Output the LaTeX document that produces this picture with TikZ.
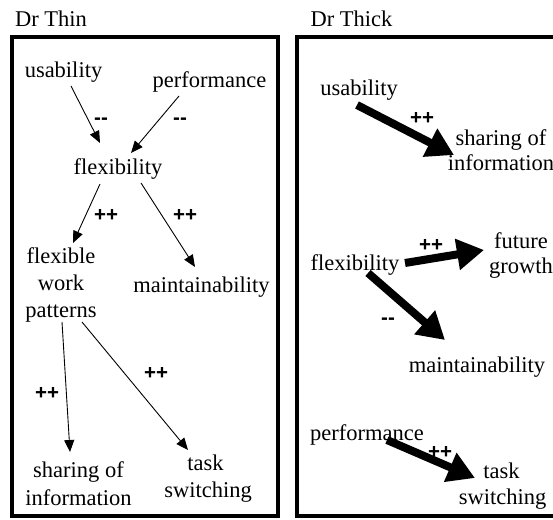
\documentclass[tikz,border=0pt]{standalone}
\usepackage{fontspec}
\setmainfont{Liberation Serif}
\newfontfamily\labelfont{Liberation Sans}
\usetikzlibrary{arrows.meta,calc}

\tikzset{
  word/.style={anchor=base, inner sep=0pt, font=\fontsize{22.5}{27}\selectfont},
  sign/.style={anchor=base, inner sep=0pt, font=\labelfont\bfseries\fontsize{20.5}{24}\selectfont},
  panel/.style={draw, line width=3.5pt},
  thinlink/.style={line width=0.9pt, -{Triangle[length=12pt,width=10pt]}},
  thicklink/.style={line width=8pt, -{Triangle[length=27pt,width=30pt]}},
}

\begin{document}
\begin{tikzpicture}[x=1pt, y=-1pt]
\useasboundingbox (0,0) rectangle (553,519);

% panel frames and titles
\draw[panel] (12,37) rectangle (278,516);
\draw[panel] (297,37) rectangle (575,516);
\node[word] (thin)  at (51,27)  {Dr Thin};
\node[word] (thick) at (351.5,27) {Dr Thick};

% ---- Dr Thin ----
\node[word] (usabL) at (63.5,77)  {usability};
\node[word] (perfL) at (209.5,87) {performance};
\node[word] (flexL) at (118,174)  {flexibility};
\node[word] (fwp1)  at (61,263)   {flexible};
\node[word] (fwp2)  at (61,290)   {work};
\node[word] (fwp3)  at (61,317)   {patterns};
\node[word] (maintL) at (201.5,292) {maintainability};
\node[word] (shareL1) at (78.5,477) {sharing of};
\node[word] (shareL2) at (78.5,505) {information};
\node[word] (taskL1) at (205.5,470) {task};
\node[word] (taskL2) at (208,497)  {switching};

\draw[thinlink] ($(usabL.base)+(7.5,9)$)  -- ($(flexL.base)+(-18,-31)$);
\draw[thinlink] ($(perfL.base)+(-30.5,9)$) -- ($(flexL.base)+(13,-21)$);
\draw[thinlink] ($(flexL.base)+(-18,10)$) -- ($(fwp1.base)+(12,-20)$);
\draw[thinlink] ($(flexL.base)+(23,9)$)   -- ($(maintL.base)+(-6.5,-25)$);
\draw[thinlink] ($(fwp3.base)+(1,5)$)     -- ($(shareL1.base)+(-8.5,-25)$);
\draw[thinlink] ($(fwp3.base)+(21,5)$)    -- ($(taskL1.base)+(-17.5,-20)$);

\node[sign] (sL1) at (101,124) {-{}-};
\node[sign] (sL2) at (180,124) {-{}-};
\node[sign] (sL3) at (106,221) {++};
\node[sign] (sL4) at (185,221) {++};
\node[sign] (sL5) at (47,399)  {++};
\node[sign] (sL6) at (156,379) {++};

% ---- Dr Thick ----
\node[word] (usabR) at (359,95)  {usability};
\node[word] (shareR1) at (501,145) {sharing of};
\node[word] (shareR2) at (501,170) {information};
\node[word] (futR1) at (521,248) {future};
\node[word] (futR2) at (521,273) {growth};
\node[word] (flexR) at (355,270) {flexibility};
\node[word] (maintR) at (477,372) {maintainability};
\node[word] (perfR) at (367,440) {performance};
\node[word] (taskR1) at (501.5,478) {task};
\node[word] (taskR2) at (502.5,504) {switching};

\draw[thicklink] ($(usabR.base)+(-2,10)$)  -- ($(shareR1.base)+(-47,10)$);
\draw[thicklink] ($(flexR.base)+(50,-7)$)  -- ($(futR2.base)+(-37,-23)$);
\draw[thicklink] ($(flexR.base)+(13,3)$)   -- ($(maintR.base)+(-32,-32)$);
\draw[thicklink] ($(perfR.base)+(20,0)$)   -- ($(taskR1.base)+(-26.5,0)$);

\node[sign] (sR1) at (422,124) {++};
\node[sign] (sR2) at (431,251) {++};
\node[sign] (sR3) at (388,324) {-{}-};
\node[sign] (sR4) at (440,458) {++};
\end{tikzpicture}
\end{document}
